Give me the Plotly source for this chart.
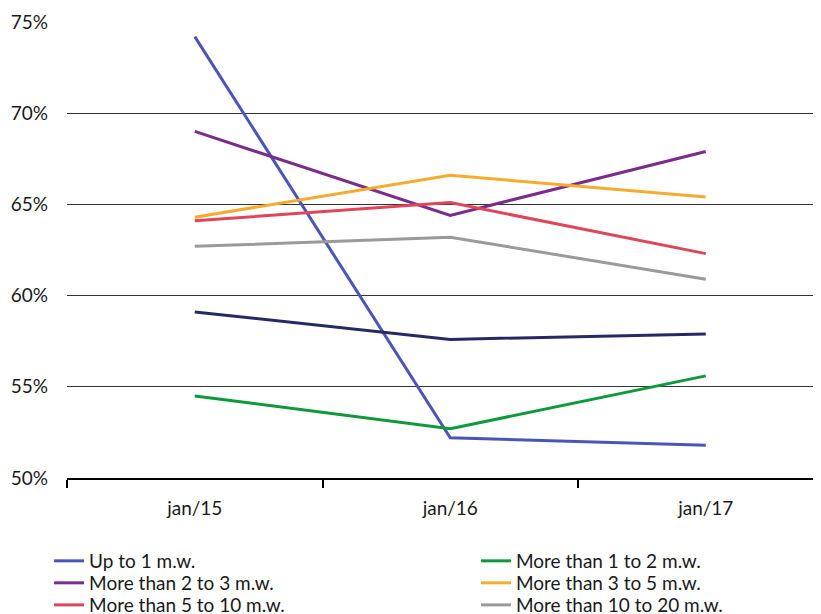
import plotly.graph_objects as go

categories = ["jan/15", "jan/16", "jan/17"]
series_names = [
    "Up to 1 m.w.",
    "More than 1 to 2 m.w.",
    "More than 2 to 3 m.w.",
    "More than 3 to 5 m.w.",
    "More than 5 to 10 m.w.",
    "More than 10 to 20 m.w.",
    "More than 20 m.w.",
]
up_to_1 = [74.2, 52.2, 51.8]
more_1_2 = [54.5, 52.7, 55.6]
more_2_3 = [69.0, 64.4, 67.9]
more_3_5 = [64.3, 66.6, 65.4]
more_5_10 = [64.1, 65.1, 62.3]
more_10_20 = [62.7, 63.2, 60.9]
more_20 = [59.1, 57.6, 57.9]
y_ticks = [50, 55, 60, 65, 70, 75]
y_tick_labels = ["50%", "55%", "60%", "65%", "70%", "75%"]

colors = ["#4a55b8", "#0c9a3c", "#7b2c8a", "#f5ac2e", "#e0465a", "#9a9a9a", "#262a63"]
values = [up_to_1, more_1_2, more_2_3, more_3_5, more_5_10, more_10_20, more_20]

FONT = "Lato, Noto Sans, sans-serif"
LEG_FONT = dict(family=FONT, size=19, color="#1a1a1a")
col_x = [0.050, 0.570]
row_y = [0.1303, 0.0945, 0.0586, 0.0]

fig = go.Figure()
legend_layouts = {}
for i, (name, vals, c) in enumerate(zip(series_names, values, colors)):
    key = "legend" if i == 0 else f"legend{i + 1}"
    fig.add_trace(go.Scatter(x=categories, y=vals, name=name, mode="lines",
                             line=dict(color=c, width=3), legend=key,
                             showlegend=True))
    legend_layouts[key] = dict(xref="container", yref="container",
                               x=col_x[i % 2], y=row_y[i // 2],
                               xanchor="left", yanchor="top",
                               font=LEG_FONT, itemwidth=30,
                               bgcolor="rgba(0,0,0,0)")

fig.update_layout(
    width=821, height=614,
    margin=dict(l=59, r=8, t=14, b=144, autoexpand=False),
    plot_bgcolor="white", paper_bgcolor="white",
    font=dict(family=FONT, size=19, color="#1a1a1a"),
    showlegend=True,
    xaxis=dict(type="category", range=[-0.5, 2.451], showgrid=False,
               showline=True, linecolor="black", linewidth=2,
               ticks="outside", tickson="boundaries", ticklen=8, tickwidth=2,
               tickcolor="black", tickfont=dict(size=19), ticklabelstandoff=12,
               automargin=False),
    yaxis=dict(range=[50, 75], tickvals=y_ticks, ticktext=y_tick_labels,
               showgrid=True, gridcolor="#333333", gridwidth=1,
               zeroline=False, showline=False, ticks="", tickfont=dict(size=19),
               ticklabelstandoff=18, automargin=False),
    **legend_layouts,
)
fig.write_html("out.html")
